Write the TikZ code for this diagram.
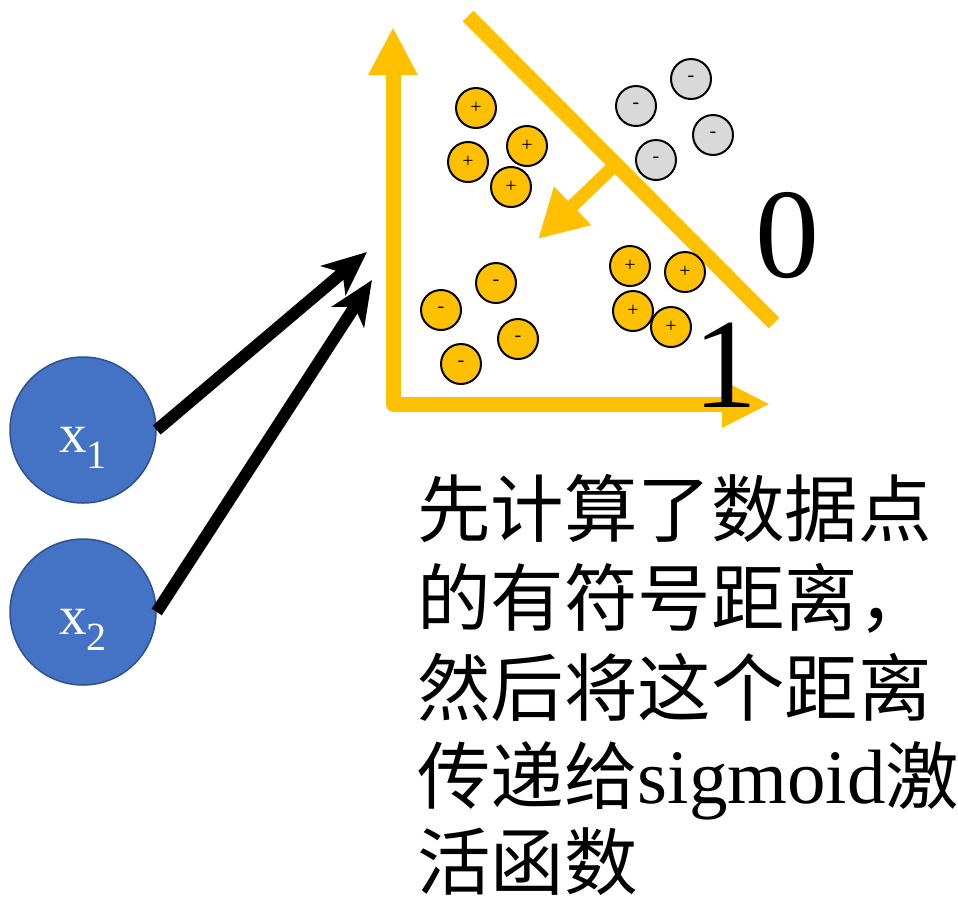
\documentclass[tikz,border=0pt]{standalone}
\usepackage{fontspec}
\setmainfont{Liberation Serif}
\newfontfamily\cjk{Noto Sans CJK SC}
\usetikzlibrary{arrows.meta}
\definecolor{amber}{HTML}{FFC000}
\definecolor{pale}{HTML}{D9D9D9}
\definecolor{nodeblue}{HTML}{4472C4}
\definecolor{nodeedge}{HTML}{2F528F}
\begin{document}
\begin{tikzpicture}[x=1pt,y=-1pt,
  axisline/.style={draw=amber,line width=15pt,line join=round},
  normalarrow/.style={draw=amber,line width=13pt,-{Triangle[length=48pt,width=50pt]}},
  inputarrow/.style={draw=black,line width=12pt,-{Stealth[length=44pt,width=38pt,inset=12pt]}},
  dot/.style={circle,draw=black,line width=2pt,minimum size=40pt,inner sep=0pt,
    fill=amber,font=\fontsize{20}{20}\selectfont},
  greydot/.style={dot,fill=pale},
  inputnode/.style={circle,draw=nodeedge,line width=1.5pt,fill=nodeblue,
    minimum size=146pt,inner sep=0pt},
  inputlabel/.style={text=white,inner sep=0pt,anchor=base},
  classlabel/.style={font=\fontsize{128}{128}\selectfont,inner sep=0pt,anchor=base},
  caption/.style={font=\cjk\fontsize{73.5}{73.5}\selectfont,inner sep=0pt,anchor=base west}]

\useasboundingbox (0,0) rectangle (958,898);

% axes
\coordinate (ytip) at (393,27);
\coordinate (origin) at (393,404);
\coordinate (xtip) at (770,404);
\draw[axisline,{Triangle[length=48pt,width=46pt]}-{Triangle[length=48pt,width=44pt]}]
  (ytip) -- (origin) -- (xtip);

% decision boundary and its normal
\coordinate (bA) at (468,16);
\coordinate (bB) at (774,323);
\draw[axisline] (bA) -- (bB);
\coordinate (nA) at (616,164);
\coordinate (nB) at (538,239);
\draw[normalarrow] (nA) -- (nB);

% data points
\node[dot] (p1) at (476,108) {+};
\node[dot] (p2) at (527,146) {+};
\node[dot] (p3) at (468,162) {+};
\node[dot] (p4) at (511,187) {+};

\node[greydot] (g1) at (691,79) {-};
\node[greydot] (g2) at (636,106) {-};
\node[greydot] (g3) at (713,135) {-};
\node[greydot] (g4) at (656,160) {-};

\node[dot] (m1) at (496,283) {-};
\node[dot] (m2) at (441,310) {-};
\node[dot] (m3) at (518,339) {-};
\node[dot] (m4) at (461,364) {-};

\node[dot] (q1) at (630,266) {+};
\node[dot] (q2) at (685,272) {+};
\node[dot] (q3) at (633,311) {+};
\node[dot] (q4) at (671,327) {+};

% class labels
\node[classlabel] (zero) at (787,277) {0};
\node[classlabel] (one) at (725,407) {1};

% inputs
\node[inputnode] (x1) at (83,430) {};
\node[inputnode] (x2) at (83,612) {};
\node[inputlabel] (x1lbl) at (83,452)
  {\fontsize{55}{55}\selectfont x\raisebox{-16pt}{\fontsize{40}{40}\selectfont 1}};
\node[inputlabel] (x2lbl) at (83,634)
  {\fontsize{55}{55}\selectfont x\raisebox{-16pt}{\fontsize{40}{40}\selectfont 2}};

\coordinate (t1) at (367,252);
\coordinate (t2) at (372,280);
\draw[inputarrow] (x1.east) -- (t1);
\draw[inputarrow] (x2.east) -- (t2);

% caption
\node[caption] (c1) at (417,536) {先计算了数据点};
\node[caption] (c2) at (417,625) {的有符号距离，};
\node[caption] (c3) at (417,715) {然后将这个距离};
\node[caption] (c4) at (417,803) {传递给{\rmfamily\fontsize{77}{77}\selectfont sigmoid}激};
\node[caption] (c5) at (417,889) {活函数};
\end{tikzpicture}
\end{document}
